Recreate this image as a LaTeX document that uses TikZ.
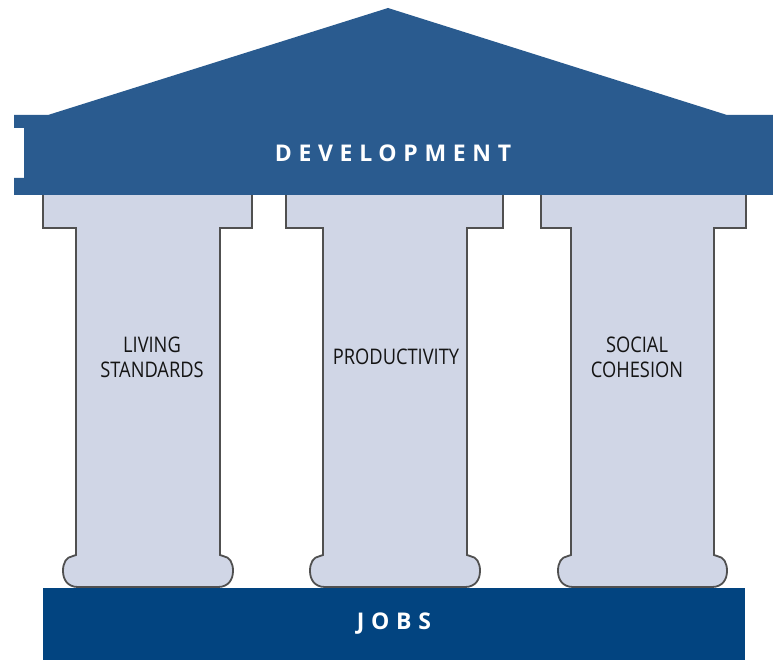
\documentclass[tikz,border=0pt]{standalone}
\usepackage{fontspec}
\setmainfont{Open Sans}
\newfontfamily\headf[LetterSpace=29]{Open Sans}
\newfontfamily\condf[FakeStretch=0.85]{Open Sans}
\definecolor{roofblue}{RGB}{42,91,143}
\definecolor{jobsblue}{RGB}{2,68,128}
\definecolor{pillarfill}{RGB}{208,214,230}
\definecolor{pillarline}{RGB}{80,80,80}
\definecolor{textdark}{RGB}{20,20,20}
\tikzset{
  pillarshape/.style={fill=pillarfill, draw=pillarline, line width=1.8pt, line join=miter},
  headtext/.style={text=white, font=\headf\bfseries\fontsize{23}{27}\selectfont, inner sep=0pt, anchor=base},
  pillartext/.style={text=textdark, font=\condf\fontsize{21.5}{25}\selectfont, inner sep=0pt, anchor=base}
}
\begin{document}
\begin{tikzpicture}[x=1pt,y=-1pt]
\useasboundingbox (0,0) rectangle (773,660);
% pillars
\foreach \cl/\cr/\sl/\sr in {43/252/76/220, 286/503/323/467, 541/746/571/714}{
  \path[pillarshape] (\cl,190) -- (\cl,228) -- (\sl,228) -- (\sl,555) -- (\sl-3,556)
    .. controls (\sl-10,557) and (\sl-13,563) .. (\sl-13,571)
    .. controls (\sl-13,580) and (\sl-8,587) .. (\sl+2,587)
    -- (\sr-2,587)
    .. controls (\sr+8,587) and (\sr+13,580) .. (\sr+13,571)
    .. controls (\sr+13,563) and (\sr+10,557) .. (\sr+3,556)
    -- (\sr,555) -- (\sr,228) -- (\cr,228) -- (\cr,190) -- cycle;
}
% roof and entablature
\fill[roofblue] (14,115) -- (48,115) -- (388,8) -- (727,115) -- (773,115) -- (773,195)
  -- (14,195) -- (14,178) -- (24,178) -- (24,128) -- (14,128) -- cycle;
% jobs bar
\fill[jobsblue] (43,588) rectangle (745,660);
% texts
\node[headtext] (dev) at (393,162) {DEVELOPMENT};
\node[headtext] (jobs) at (394,629) {JOBS};
\node[pillartext] (liv1) at (152,352) {LIVING};
\node[pillartext] (liv2) at (152,377) {STANDARDS};
\node[pillartext] (prod) at (396,364) {PRODUCTIVITY};
\node[pillartext] (soc1) at (637,352) {SOCIAL};
\node[pillartext] (soc2) at (637,377) {COHESION};
\end{tikzpicture}
\end{document}
